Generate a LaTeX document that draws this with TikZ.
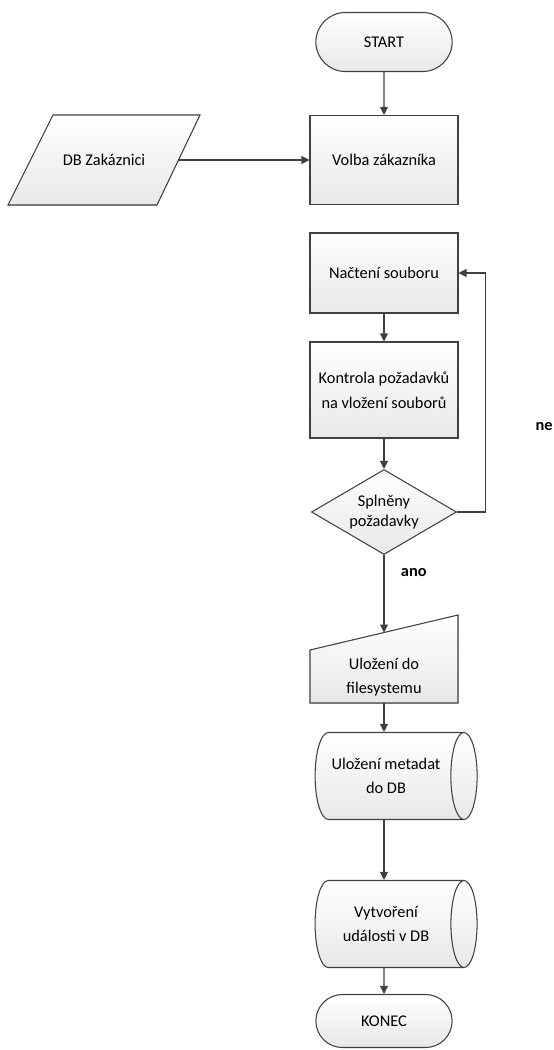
\documentclass[tikz,border=0pt]{standalone}
\usepackage{fontspec}
\setmainfont{Carlito}
\usetikzlibrary{arrows.meta,shapes.geometric,shapes.misc}

\begin{document}
\begin{tikzpicture}[x=0.2mm,y=-0.2mm,
		every node/.style={font=\fontsize{9.3}{14}\selectfont, align=center},
		box/.style={draw=black!75, line width=0.6pt, top color=white, bottom color=black!9},
		proc/.style={box, rectangle, minimum width=29.6mm},
		term/.style={box, rounded rectangle, minimum width=29.6mm},
		decide/.style={box, diamond, aspect=1.7, inner sep=0pt, minimum width=29mm, minimum height=17mm,
			font=\fontsize{9.3}{11.3}\selectfont},
		store/.style={box, cylinder, aspect=0.55, minimum height=32.4mm, minimum width=17.4mm},
		arr/.style={draw=black!75, line width=0.6pt, -{Triangle[length=1.6mm,width=1.6mm]}},
		lbl/.style={font=\fontsize{9.3}{14}\selectfont\bfseries}]
		\useasboundingbox (0,0) rectangle (553,1050);

		% Start and choice of customer
		\node[term, minimum height=11.8mm] (start) at (384,42) {START};
		\node[proc, minimum height=17.8mm] (volba) at (384,160) {Volba zákazníka};
		\filldraw[box] (8,205) -- (157,205) -- (200,115) -- (53,115) -- cycle;
		\node[minimum width=29.6mm, inner sep=0pt] (zakaznici) at (104,160) {DB Zakáznici};

		% Loading and checking the file
		\node[proc, minimum height=16mm] (nacteni) at (384,273) {Načtení souboru};
		\node[proc, minimum height=19.2mm] (kontrola) at (384,390) {Kontrola požadavků\\na vložení souborů};
		\node[decide] (splneny) at (384,512) {Splněny\\požadavky};

		% Manual input shape drawn by hand
		\filldraw[box] (310,703) -- (458,703) -- (458,615) -- (310,650) -- cycle;
		\coordinate (fsin) at (384,632.5);
		\node[minimum width=29.6mm, minimum height=10.6mm] (ulozeni) at (384,677) {Uložení do\\filesystemu};

		% Database steps and end
		\node[store] (metadata) at (386,776) {Uložení metadat\\do DB};
		\node[store] (udalost) at (386,924) {Vytvoření\\události v DB};
		\node[term, minimum height=10.6mm] (konec) at (384,1021) {KONEC};

		% Connectors
		\draw[arr] (start) -- (volba);
		\draw[arr] (zakaznici) -- (volba);
		\draw[arr] (nacteni) -- (kontrola);
		\draw[arr] (kontrola) -- (splneny);
		\draw[arr] (splneny.south) -- node[lbl, pos=0.22, right=6pt] {ano} (fsin);
		\draw[arr] (0,703 -| ulozeni.south) -- (metadata.north -| ulozeni.south);
		\draw[arr] (metadata.south -| ulozeni.south) -- (udalost.north -| ulozeni.south);
		\draw[arr] (udalost.south -| ulozeni.south) -- (konec);
		\draw[arr] (splneny.east) -- ++(28,0) |- (nacteni.east);
		\node[lbl] (ne) at (544,427) {ne};
	\end{tikzpicture}
\end{document}
